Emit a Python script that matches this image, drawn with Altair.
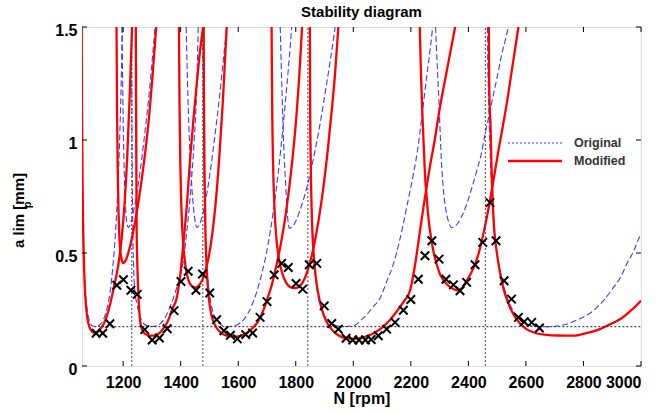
import altair as alt
import pandas as pd

FONT = "Liberation Sans"

# ---------------- Original (blue dashed) lobes ----------------
orig1_N = [1056, 1057, 1059, 1062, 1067, 1074, 1083, 1093, 1102, 1112, 1122, 1133, 1145, 1156, 1165, 1174, 1182, 1189, 1194, 1197]
orig1_a = [1.5, 1.15, 0.8, 0.55, 0.37, 0.26, 0.2, 0.178, 0.175, 0.177, 0.186, 0.21, 0.26, 0.34, 0.45, 0.6, 0.8, 1.05, 1.3, 1.5]
orig2_N = [1196, 1200, 1205, 1210, 1215, 1218, 1222, 1230, 1240, 1252, 1265, 1278, 1290, 1300, 1311]
orig2_a = [1.5, 1.1, 0.8, 0.67, 0.62, 0.613, 0.62, 0.65, 0.71, 0.8, 0.92, 1.06, 1.2, 1.34, 1.5]
orig3_N = [1229, 1231, 1233, 1236, 1241, 1248, 1258, 1270, 1284, 1300, 1318, 1335, 1350, 1363, 1376, 1387, 1397, 1404, 1420, 1435, 1447, 1455, 1461]
orig3_a = [1.5, 1.0, 0.68, 0.45, 0.33, 0.275, 0.22, 0.19, 0.177, 0.175, 0.178, 0.195, 0.225, 0.262, 0.305, 0.35, 0.39, 0.424, 0.58, 0.78, 1.0, 1.2, 1.5]
orig4_N = [1419, 1425, 1432, 1440, 1448, 1456, 1465, 1478, 1492, 1506, 1520, 1534, 1547, 1560]
orig4_a = [1.5, 1.2, 0.95, 0.77, 0.66, 0.613, 0.625, 0.68, 0.77, 0.89, 1.03, 1.18, 1.34, 1.5]
orig5_N = [1477, 1479, 1482, 1486, 1492, 1500, 1510, 1522, 1537, 1553, 1570, 1588, 1606, 1622, 1637, 1651, 1665, 1680, 1695, 1712, 1730, 1748, 1764, 1776, 1786]
orig5_a = [1.5, 1.1, 0.8, 0.58, 0.42, 0.32, 0.25, 0.21, 0.185, 0.177, 0.175, 0.178, 0.19, 0.21, 0.24, 0.28, 0.33, 0.4, 0.48, 0.6, 0.76, 0.96, 1.17, 1.34, 1.5]
orig6_N = [1746, 1752, 1758, 1765, 1771, 1778, 1787, 1800, 1815, 1832, 1850, 1868, 1887, 1905, 1921, 1937]
orig6_a = [1.5, 1.22, 0.98, 0.8, 0.67, 0.61, 0.615, 0.64, 0.69, 0.76, 0.85, 0.96, 1.09, 1.23, 1.36, 1.5]
orig7_N = [1849, 1851, 1854, 1859, 1866, 1875, 1887, 1902, 1920, 1942, 1965, 1985, 2005, 2024, 2045, 2068, 2093, 2115, 2139, 2160, 2174, 2190, 2209, 2225, 2238, 2255, 2267, 2276]
orig7_a = [1.5, 1.1, 0.8, 0.58, 0.43, 0.33, 0.26, 0.215, 0.19, 0.178, 0.175, 0.176, 0.18, 0.2, 0.225, 0.26, 0.3, 0.37, 0.45, 0.55, 0.63, 0.73, 0.85, 0.97, 1.1, 1.28, 1.4, 1.5]
orig8_N = [2286, 2291, 2296, 2301, 2307, 2314, 2322, 2332, 2342, 2353, 2365, 2380, 2394, 2410, 2429, 2445, 2458, 2472, 2487, 2502, 2516, 2528, 2539]
orig8_a = [1.5, 1.35, 1.22, 1.06, 0.89, 0.77, 0.69, 0.635, 0.612, 0.618, 0.635, 0.67, 0.716, 0.78, 0.863, 0.94, 1.026, 1.11, 1.2, 1.29, 1.38, 1.44, 1.5]
orig9_N = [2466, 2468, 2471, 2473, 2477, 2481, 2488, 2498, 2509, 2521, 2538, 2556, 2578, 2602, 2630, 2672, 2710, 2741, 2780, 2834, 2870, 2904, 2930, 2950, 2975, 2994, 3000]
orig9_a = [1.5, 1.3, 1.15, 1.05, 0.9, 0.775, 0.63, 0.51, 0.43, 0.362, 0.29, 0.244, 0.205, 0.185, 0.176, 0.174, 0.177, 0.185, 0.205, 0.244, 0.29, 0.347, 0.395, 0.45, 0.51, 0.569, 0.585]

# ---------------- Modified (red) lobes ----------------
mod1_N = [1056, 1057, 1059, 1062, 1066, 1072, 1080, 1088, 1097, 1107, 1118, 1130, 1143, 1156, 1168, 1178, 1187, 1196, 1205, 1214, 1222, 1231]
mod1_a = [1.5, 1.15, 0.8, 0.55, 0.37, 0.25, 0.185, 0.158, 0.148, 0.15, 0.16, 0.18, 0.22, 0.28, 0.35, 0.41, 0.48, 0.58, 0.72, 0.92, 1.17, 1.5]
mod2_N = [1177, 1179, 1182, 1186, 1192, 1200, 1210, 1222, 1236, 1250, 1264, 1278, 1290, 1302, 1315]
mod2_a = [1.5, 1.1, 0.8, 0.6, 0.49, 0.455, 0.47, 0.52, 0.6, 0.7, 0.82, 0.96, 1.1, 1.28, 1.5]
mod3_N = [1244, 1245, 1246, 1247, 1250, 1254, 1259, 1266, 1275, 1287, 1300, 1314, 1328, 1342, 1356, 1370, 1386, 1400, 1410, 1422, 1433, 1445, 1456, 1466, 1478]
mod3_a = [1.5, 1.15, 0.85, 0.6, 0.42, 0.29, 0.2, 0.16, 0.143, 0.136, 0.134, 0.137, 0.148, 0.17, 0.2, 0.25, 0.3, 0.42, 0.55, 0.72, 0.92, 1.1, 1.25, 1.38, 1.5]
mod4_N = [1394, 1396, 1399, 1403, 1409, 1417, 1427, 1438, 1450, 1462, 1475, 1490, 1505, 1520, 1534, 1547, 1560]
mod4_a = [1.5, 1.15, 0.88, 0.68, 0.54, 0.44, 0.38, 0.355, 0.347, 0.355, 0.38, 0.44, 0.54, 0.7, 0.92, 1.18, 1.5]
mod5_N = [1480, 1481, 1483, 1486, 1491, 1498, 1506, 1516, 1530, 1548, 1568, 1590, 1612, 1632, 1652, 1670, 1687, 1702, 1717, 1732, 1748, 1765, 1782, 1800, 1812, 1822]
mod5_a = [1.5, 1.15, 0.85, 0.6, 0.42, 0.3, 0.23, 0.19, 0.16, 0.14, 0.132, 0.13, 0.134, 0.148, 0.17, 0.2, 0.245, 0.3, 0.36, 0.44, 0.54, 0.67, 0.84, 1.07, 1.28, 1.5]
mod6_N = [1716, 1718, 1721, 1726, 1733, 1742, 1753, 1766, 1780, 1795, 1810, 1824, 1838, 1852, 1866, 1880, 1895, 1910, 1925, 1937, 1948]
mod6_a = [1.5, 1.15, 0.9, 0.7, 0.56, 0.47, 0.41, 0.37, 0.35, 0.345, 0.35, 0.37, 0.41, 0.47, 0.55, 0.65, 0.78, 0.94, 1.13, 1.3, 1.5]
mod7_N = [1849, 1850, 1852, 1855, 1859, 1865, 1873, 1883, 1896, 1912, 1930, 1952, 1975, 2000, 2025, 2050, 2075, 2100, 2125, 2150, 2175, 2197, 2215, 2232, 2249, 2266, 2283, 2301, 2318, 2336, 2354]
mod7_a = [1.5, 1.15, 0.9, 0.7, 0.56, 0.45, 0.36, 0.29, 0.23, 0.185, 0.155, 0.133, 0.123, 0.12, 0.123, 0.133, 0.148, 0.17, 0.2, 0.24, 0.285, 0.333, 0.45, 0.6, 0.746, 0.88, 1.0, 1.144, 1.26, 1.38, 1.5]
mod8_N = [2231, 2235, 2240, 2245, 2249, 2255, 2261, 2270, 2278, 2290, 2301, 2313, 2325, 2342, 2360, 2378, 2394, 2409, 2423, 2436, 2446, 2458, 2469, 2487, 2504, 2521, 2537, 2550, 2562, 2574]
mod8_a = [1.5, 1.3, 1.12, 0.97, 0.85, 0.75, 0.657, 0.57, 0.51, 0.45, 0.407, 0.38, 0.362, 0.345, 0.335, 0.345, 0.377, 0.41, 0.45, 0.5, 0.55, 0.62, 0.69, 0.82, 0.95, 1.07, 1.19, 1.3, 1.4, 1.5]
mod9_N = [2471, 2472, 2474, 2477, 2480, 2484, 2490, 2498, 2509, 2521, 2538, 2556, 2578, 2602, 2635, 2672, 2710, 2765, 2810, 2857, 2890, 2927, 2960, 2994, 3000]
mod9_a = [1.5, 1.3, 1.15, 1.07, 0.9, 0.746, 0.6, 0.51, 0.42, 0.348, 0.28, 0.23, 0.19, 0.163, 0.145, 0.138, 0.135, 0.134, 0.145, 0.163, 0.183, 0.207, 0.24, 0.281, 0.29]

# ---------------- Measured chatter limits (x markers) ----------------
meas_N = [1106, 1129, 1154, 1178, 1201, 1227, 1249, 1275, 1301, 1326, 1353, 1377, 1401, 1426, 1453, 1476, 1501, 1525, 1550, 1573,
          1597, 1626, 1650, 1676, 1700, 1725, 1751, 1774, 1801, 1824, 1847, 1873, 1899, 1925, 1948, 1975, 1998, 2020, 2042, 2062,
          2087, 2116, 2145, 2174, 2200, 2226, 2249, 2273, 2298, 2322, 2348, 2371, 2394, 2423, 2450, 2475, 2496, 2524, 2550, 2574,
          2594, 2620, 2647]
meas_a = [0.145, 0.145, 0.187, 0.357, 0.382, 0.335, 0.317, 0.161, 0.115, 0.124, 0.165, 0.245, 0.374, 0.419, 0.335, 0.407, 0.323, 0.205, 0.156, 0.136,
          0.12, 0.139, 0.146, 0.215, 0.285, 0.403, 0.454, 0.436, 0.365, 0.34, 0.448, 0.454, 0.266, 0.188, 0.163, 0.123, 0.115, 0.115, 0.115, 0.117,
          0.134, 0.163, 0.193, 0.247, 0.294, 0.384, 0.488, 0.554, 0.473, 0.384, 0.359, 0.333, 0.37, 0.448, 0.547, 0.723, 0.554, 0.377, 0.296, 0.215,
          0.196, 0.193, 0.168]

# ---------------- reference lines, ticks, labels ----------------
resonance_N = [1230, 1477, 1842, 2459]
limit_a = [0.174]
limit_span = [1100, 3000]
x_ticks = [1200, 1400, 1600, 1800, 2000, 2200, 2400, 2600, 2800, 3000]
y_ticks = [0, 0.5, 1, 1.5]
legend_labels = ["Original", "Modified"]

orig_lobes = [orig1_N, orig1_a, orig2_N, orig2_a, orig3_N, orig3_a, orig4_N, orig4_a, orig5_N, orig5_a,
              orig6_N, orig6_a, orig7_N, orig7_a, orig8_N, orig8_a, orig9_N, orig9_a]
mod_lobes = [mod1_N, mod1_a, mod2_N, mod2_a, mod3_N, mod3_a, mod4_N, mod4_a, mod5_N, mod5_a,
             mod6_N, mod6_a, mod7_N, mod7_a, mod8_N, mod8_a, mod9_N, mod9_a]


def lobe_frame(arrs, prefix):
    rows = []
    for k in range(0, len(arrs), 2):
        for i, (n, a) in enumerate(zip(arrs[k], arrs[k + 1])):
            rows.append({"N": n, "a": a, "lobe": f"{prefix}{k // 2}", "i": i})
    return pd.DataFrame(rows)


orig_df = lobe_frame(orig_lobes, "o")
mod_df = lobe_frame(mod_lobes, "m")
meas_df = pd.DataFrame({"N": meas_N, "a": meas_a})
res_df = pd.DataFrame({"N": resonance_N})
lim_df = pd.DataFrame({"a": limit_a, "N": [limit_span[0]], "N2": [limit_span[1]]})
xt_df = pd.DataFrame({"N": x_ticks})
yt_df = pd.DataFrame({"a": y_ticks})
leg_df = pd.DataFrame({"label": legend_labels})

W, H = 559, 339

xscale = alt.Scale(domain=[1057, 3000], nice=False, zero=False)
yscale = alt.Scale(domain=[0, 1.5], nice=False, zero=False)

X = alt.X("N:Q", scale=xscale, axis=alt.Axis(
    values=x_ticks, format="d", title="N [rpm]", ticks=False, domain=False, grid=False,
    labelFont=FONT, labelFontSize=16, labelFontWeight="bold", labelColor="black", labelPadding=8,
    titleFont=FONT, titleFontSize=16, titleFontWeight="bold", titleColor="black", titlePadding=0))
Y = alt.Y("a:Q", scale=yscale, axis=alt.Axis(
    values=y_ticks, format=".2~f", title="a lim [mm]", ticks=False, domain=False, grid=False,
    labelFont=FONT, labelFontSize=16, labelFontWeight="bold", labelColor="black", labelPadding=5,
    labelOffset=3,
    titleFont=FONT, titleFontSize=15, titleFontWeight="bold", titleColor="black",
    titleX=-64, titleY=183, titleAlign="center", titleBaseline="middle", titleAngle=270))

orig_layer = alt.Chart(orig_df).mark_line(
    color="#3b3bff", strokeWidth=1.1, strokeDash=[6, 3], clip=True, interpolate="monotone"
).encode(x=X, y=Y, detail="lobe:N", order="i:Q")

mod_layer = alt.Chart(mod_df).mark_line(
    color="#ff0000", strokeWidth=2.3, clip=True, interpolate="monotone"
).encode(x=X, y=Y, detail="lobe:N", order="i:Q")

res_layer = alt.Chart(res_df).mark_rule(color="#444444", strokeWidth=1, strokeDash=[2, 2]).encode(
    x=X, y=alt.datum(0), y2=alt.datum(1.5))

lim_layer = alt.Chart(lim_df).mark_rule(color="#222222", strokeWidth=1, strokeDash=[2, 2]).encode(
    x=X, x2="N2:Q", y=Y)

meas_layer = alt.Chart(meas_df).mark_point(
    shape="M-1,-1L1,1M-1,1L1,-1", size=72, strokeWidth=2, color="black", filled=False, opacity=1
).encode(x=X, y=Y)

tick_bottom = alt.Chart(xt_df).mark_rule(color="black", strokeWidth=1).encode(
    x=X, y=alt.value(H), y2=alt.value(H - 5))
tick_top = alt.Chart(xt_df).mark_rule(color="black", strokeWidth=1).encode(
    x=X, y=alt.value(0), y2=alt.value(5))
tick_left = alt.Chart(yt_df).mark_rule(color="black", strokeWidth=1).encode(
    y=Y, x=alt.value(0), x2=alt.value(5))
tick_right = alt.Chart(yt_df).mark_rule(color="black", strokeWidth=1).encode(
    y=Y, x=alt.value(W), x2=alt.value(W - 5))

sub_p = alt.Chart(pd.DataFrame({"t": ["p"]})).mark_text(
    font=FONT, fontSize=11, fontWeight="bold", color="black", angle=270, align="center", baseline="middle"
).encode(x=alt.value(-54), y=alt.value(178), text="t:N")

leg_orig_line = alt.Chart(leg_df.iloc[[0]]).mark_rule(color="#3b3bff", strokeWidth=1, strokeDash=[2, 2]).encode(
    x=alt.value(426), x2=alt.value(482), y=alt.value(116))
leg_mod_line = alt.Chart(leg_df.iloc[[1]]).mark_rule(color="#ff0000", strokeWidth=2.3).encode(
    x=alt.value(426), x2=alt.value(480), y=alt.value(134))
leg_text_style = dict(font=FONT, fontSize=12.5, fontWeight="bold", color="#333333", align="left", baseline="middle")
leg_orig_text = alt.Chart(leg_df.iloc[[0]]).mark_text(**leg_text_style).encode(
    x=alt.value(492), y=alt.value(116), text="label:N")
leg_mod_text = alt.Chart(leg_df.iloc[[1]]).mark_text(**leg_text_style).encode(
    x=alt.value(492), y=alt.value(134), text="label:N")

chart = alt.layer(
    orig_layer, mod_layer, res_layer, lim_layer, meas_layer,
    tick_bottom, tick_top, tick_left, tick_right,
    sub_p, leg_orig_line, leg_mod_line, leg_orig_text, leg_mod_text
).properties(
    width=W, height=H,
    title=alt.Title("Stability diagram", font=FONT, fontSize=15, fontWeight="bold", color="black",
                    anchor="middle", offset=2),
    autosize=alt.AutoSizeParams(type="none"),
    padding={"left": 82, "top": 27, "right": 16, "bottom": 47},
).configure_view(stroke="black", strokeWidth=1).configure(background="white")

chart.save("out.html", embed_options={"renderer": "svg", "actions": False})
